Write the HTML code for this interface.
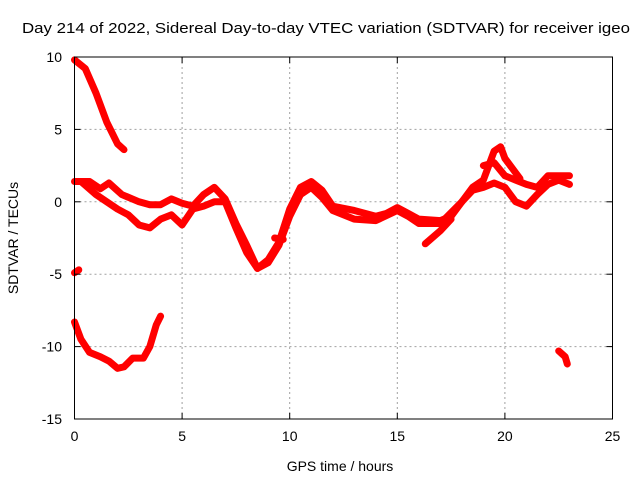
<!DOCTYPE html>
<html><head><meta charset="utf-8"><style>
body{margin:0;background:#fff;}
svg{display:block;font-family:"Liberation Sans",sans-serif;}
</style></head><body>
<svg id="chart" width="640" height="480">
<text x="22" y="33" font-size="15" textLength="608" lengthAdjust="spacingAndGlyphs">Day 214 of 2022, Sidereal Day-to-day VTEC variation (SDTVAR) for receiver igeo</text>
<text x="340" y="471" text-anchor="middle" font-size="14">GPS time / hours</text>
<text transform="translate(18,238) rotate(-90)" text-anchor="middle" font-size="14">SDTVAR / TECUs</text>
<g id="grid"></g><g id="data"></g><g id="axes"></g>
</svg>
<script>
const xTicks=[0,5,10,15,20,25];
const yTicks=[10,5,0,-5,-10,-15];
const traceA=[[0,9.8],[0.5,9.2],[1,7.5],[1.5,5.5],[2,4],[2.3,3.6]];
const traceB=[[0,-8.3],[0.3,-9.5],[0.7,-10.4],[1.2,-10.7],[1.6,-11],[2,-11.5],[2.3,-11.4],[2.7,-10.8],[3.2,-10.8],[3.5,-10],[3.8,-8.5],[4,-7.9]];
const traceC=[[0,1.4],[0.7,1.4],[1.2,0.9],[1.6,1.3],[2.2,0.5],[3,0],[3.5,-0.2],[4,-0.2],[4.5,0.2],[5,-0.1],[5.5,-0.3],[6,0.5],[6.5,1.0],[7,0.2],[7.5,-1.5],[8,-3],[8.5,-4.6],[9,-4],[9.5,-2.8],[10,-0.5],[10.5,1],[11,1.4],[11.5,0.8],[12,-0.3],[13,-0.6],[14,-1],[14.5,-0.8],[15,-0.4],[15.5,-0.8],[16,-1.2],[17,-1.3],[17.5,-1],[18,0],[18.5,1],[19,1.5],[19.5,3.5],[19.8,3.8],[20,3],[20.5,2],[20.7,1.6]];
const traceD=[[0.3,1.4],[1,0.5],[1.5,0],[2,-0.5],[2.5,-0.9],[3,-1.6],[3.5,-1.8],[4,-1.2],[4.5,-0.9],[5,-1.6],[5.5,-0.5],[6,-0.3],[6.5,0],[7,0],[7.5,-1.8],[8,-3.5],[8.5,-4.6],[9,-4.2],[9.5,-3],[10,-1],[10.5,0.5],[11,1],[11.5,0.3],[12,-0.6],[13,-1.2],[14,-1.3],[15,-0.6],[15.5,-1],[16,-1.5],[17,-1.5],[18,0],[18.5,0.8],[19,1],[19.5,1.3],[20,1],[20.5,0],[21,-0.3],[21.5,0.5],[22,1.2],[22.5,1.5],[23,1.2]];
const traceE=[[19,2.5],[19.5,2.7],[20,1.8],[20.5,1.5],[21,1.2],[21.5,1],[22,1.8],[22.5,1.8],[23,1.8]];
const traceF=[[16.3,-2.9],[17,-2],[17.5,-1.2]];
const traceG=[[9.3,-2.5],[9.7,-2.6]];
const traceH=[[0,-4.9],[0.2,-4.7]];
const traceI=[[22.5,-10.3],[22.8,-10.7],[22.9,-11.2]];
const L=74.5,R=612.5,T=57,B=419;
const sx=h=>L+h/25*(R-L);
const sy=v=>T+(10-v)/25*(B-T);
const NS="http://www.w3.org/2000/svg";
const mk=(t,p,a)=>{const e=document.createElementNS(NS,t);for(const k in a)e.setAttribute(k,a[k]);p.appendChild(e);return e;};
const grid=document.getElementById('grid'),axes=document.getElementById('axes'),data=document.getElementById('data');
xTicks.forEach(t=>{
 if(t>0&&t<25){const g=mk('line',grid,{x1:sx(t),x2:sx(t),y1:T,y2:B,stroke:'#a0a0a0','stroke-dasharray':'2,3'});
 }
 mk('line',axes,{x1:sx(t),x2:sx(t),y1:B,y2:B-6,stroke:'#000'});
 mk('line',axes,{x1:sx(t),x2:sx(t),y1:T,y2:T+6,stroke:'#000'});
 const l=mk('text',axes,{x:sx(t),y:B+22,'text-anchor':'middle','font-size':14});l.textContent=t;
 
});
yTicks.forEach(t=>{
 if(t>-15&&t<10){const g=mk('line',grid,{x1:L,x2:R,y1:sy(t),y2:sy(t),stroke:'#a0a0a0','stroke-dasharray':'2,3'});
 }
 mk('line',axes,{x1:L,x2:L+6,y1:sy(t),y2:sy(t),stroke:'#000'});
 mk('line',axes,{x1:R,x2:R-6,y1:sy(t),y2:sy(t),stroke:'#000'});
 const l=mk('text',axes,{x:62,y:sy(t)+5,'text-anchor':'end','font-size':14});l.textContent=t;
 
});
const fr=mk('rect',axes,{x:L,y:T,width:R-L,height:B-T,fill:'none',stroke:'#000'});

[traceA,traceB,traceC,traceD,traceE,traceF,traceG,traceH,traceI].forEach(tr=>{
 const p=mk('polyline',data,{points:tr.map(d=>sx(d[0])+','+sy(d[1])).join(' '),fill:'none',stroke:'#ff0000','stroke-width':7,'stroke-linejoin':'round','stroke-linecap':'round'});
 
 
});
</script>
</body></html>
